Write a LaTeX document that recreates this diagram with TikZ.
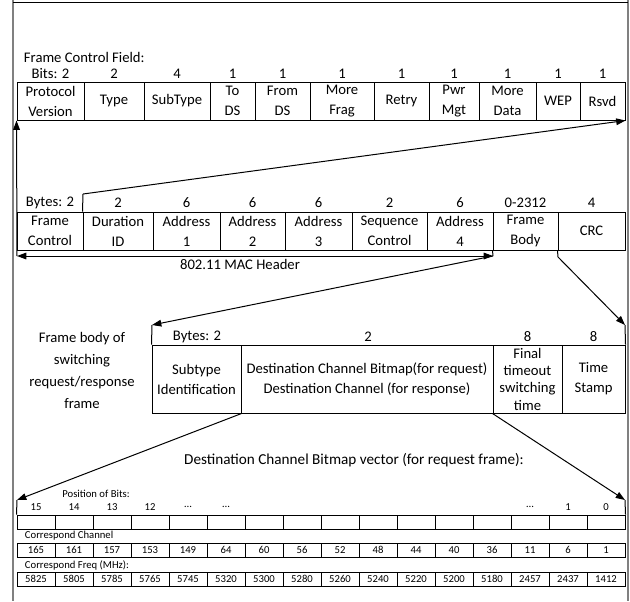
\documentclass[tikz,border=0pt]{standalone}
\usepackage{fontspec}
\setmainfont{Carlito}
\usetikzlibrary{arrows.meta}

\begin{document}
\begin{tikzpicture}[x=0.75pt, y=-0.75pt, line width=0.75pt,
  font=\fontsize{11}{15}\selectfont,
  cell/.style={draw, inner sep=0pt, align=center},
  wd/.style={minimum width=#1*0.75pt},
  ht/.style={minimum height=#1*0.75pt},
  small/.style={font=\fontsize{8}{9.5}\selectfont},
  arr/.style={-{Triangle[length=7pt,width=5pt]}},
  arrs/.style={{Triangle[length=7pt,width=5pt]}-{Triangle[length=7pt,width=5pt]}}]
\useasboundingbox (0,0) rectangle (630,601);

% page frame
\draw[gray, line width=1.5pt] (13,0) -- (13,601);
\draw[gray, line width=1.5pt] (628,0) -- (628,601);
\draw (13,2) -- (628,2);

% frame control field
\node[anchor=west] (fcf) at (19,57) {Frame Control Field:};
\node (bpv) at (50.5,74) {Bits: 2};
\node (btype) at (114,74) {2};
\node (bstype) at (177,74) {4};
\node (btods) at (232.5,74) {1};
\node (bfromds) at (282.5,74) {1};
\node (bmfrag) at (342,74) {1};
\node (bretry) at (401.5,74) {1};
\node (bpwr) at (454,74) {1};
\node (bmdata) at (507.5,74) {1};
\node (bwep) at (558,74) {1};
\node (brsvd) at (602.5,74) {1};

\node[cell, wd=67, ht=38] (pv) at (50.5,101) {Protocol\\Version};
\node[cell, wd=60, ht=38] (type) at (114,101) {Type};
\node[cell, wd=66, ht=38] (stype) at (177,101) {SubType};
\node[cell, wd=45, ht=38] (tods) at (232.5,101) {To\\DS};
\node[cell, wd=55, ht=38] (fromds) at (282.5,101) {From\\DS};
\node[cell, wd=64, ht=38] (mfrag) at (342,101) {More\\Frag};
\node[cell, wd=55, ht=38] (retry) at (401.5,101) {Retry};
\node[cell, wd=50, ht=38] (pwr) at (454,101) {Pwr\\Mgt};
\node[cell, wd=57, ht=38] (mdata) at (507.5,101) {More\\Data};
\node[cell, wd=44, ht=38] (wep) at (558,101) {WEP};
\node[cell, wd=45, ht=38] (rsvd) at (602.5,101) {Rsvd};

% MAC frame
\node (bfc) at (50,203) {Bytes: 2};
\node (bdur) at (118,203) {2};
\node (bad1) at (186.5,203) {6};
\node (bad2) at (252.5,203) {6};
\node (bad3) at (318.5,203) {6};
\node (bseq) at (389.5,203) {2};
\node (bad4) at (460,203) {6};
\node (bfb) at (525.5,203) {0-2312};
\node (bcrc) at (591.5,203) {4};

\node[cell, wd=66, ht=38] (fc) at (50,231) {Frame\\Control};
\node[cell, wd=70, ht=38] (dur) at (118,231) {Duration\\ID};
\node[cell, wd=67, ht=38] (ad1) at (186.5,231) {Address\\1};
\node[cell, wd=65, ht=38] (ad2) at (252.5,231) {Address\\2};
\node[cell, wd=67, ht=38] (ad3) at (318.5,231) {Address\\3};
\node[cell, wd=75, ht=38] (seq) at (389.5,231) {Sequence\\Control};
\node[cell, wd=66, ht=38] (ad4) at (460,231) {Address\\4};
\node[cell, wd=65, ht=38] (fb) at (525.5,231) {Frame\\Body};
\node[cell, wd=67, ht=38] (crc) at (591.5,231) {CRC};

\coordinate (fctop) at (83,194);
\coordinate (macL) at (17,256);
\coordinate (macR) at (493,256);
\coordinate (crcb) at (558,257);
\draw (fctop) -- (dur.north west);
\draw[arr] (fctop) -- (rsvd.south east);
\draw[arr] (macL) -- (pv.south west);
\draw[arrs] (macL) -- (macR);
\draw (fb.south west) -- (macR);
\node (mac) at (240,264) {802.11 MAC Header};

% frame body of switching frame
\node[align=center, font=\fontsize{11}{16.5}\selectfont] (fbs) at (82,370) {Frame body of\\switching\\request/response\\frame};
\node (bsid) at (197,337) {Bytes: 2};
\node (bdcb) at (368,337) {2};
\node (bfts) at (527.5,337) {8};
\node (bts) at (593.5,337) {8};

\node[cell, wd=89, ht=68] (sid) at (196.5,379) {Subtype\\Identification};
\node[cell, wd=252, ht=68] (dcb) at (367,379) {Destination Channel Bitmap(for request)\\Destination Channel (for response)};
\node[cell, wd=69, ht=68, font=\fontsize{11}{13}\selectfont] (fts) at (527.5,379) {Final\\timeout\\switching\\time};
\node[cell, wd=63, ht=68] (ts) at (593.5,379) {Time\\Stamp};

\coordinate (fbtl) at (152,325);
\coordinate (fbtr) at (625,325);
\draw[arr] (macR) -- (fbtl);
\draw[arr] (crc.south west) -- (crcb) -- (fbtr);
\draw (fbtl) -- (sid.north west);
\draw (fbtr) -- (ts.north east);

% bitmap vector
\node[font=\fontsize{11.4}{15}\selectfont] (dcbv) at (354,460) {Destination Channel Bitmap vector (for request frame):};
\node[small] (posb) at (96,494) {Position of Bits:};
\node[small, anchor=west] (cch) at (20,536) {Correspond Channel};
\node[small, anchor=west] (cfq) at (20,565) {Correspond Freq (MHz):};

\foreach \b [count=\i from 0] in {15,14,13,12,\ldots,\ldots,,,,,,,,\ldots,1,0} {
  \node[small] (pos\i) at (36+38*\i,507) {\b};
  \node[cell, wd=38, ht=14] (bit\i) at (36+38*\i,522) {};
}
\foreach \c [count=\i from 0] in {165,161,157,153,149,64,60,56,52,48,44,40,36,11,6,1}
  \node[cell, small, wd=38, ht=14] (ch\i) at (36+38*\i,550) {\c};
\foreach \f [count=\i from 0] in {5825,5805,5785,5765,5745,5320,5300,5280,5260,5240,5220,5200,5180,2457,2437,1412}
  \node[cell, small, wd=38, ht=14] (fq\i) at (36+38*\i,579) {\f};

\coordinate (bitl) at (17,500);
\coordinate (bitr) at (625,500);
\draw[arr] (sid.south east) -- (bitl);
\draw[arr] (fts.south west) -- (bitr);
\draw (bitl) -- (bit0.north west);
\draw (bitr) -- (bit15.north east);

\end{tikzpicture}
\end{document}
